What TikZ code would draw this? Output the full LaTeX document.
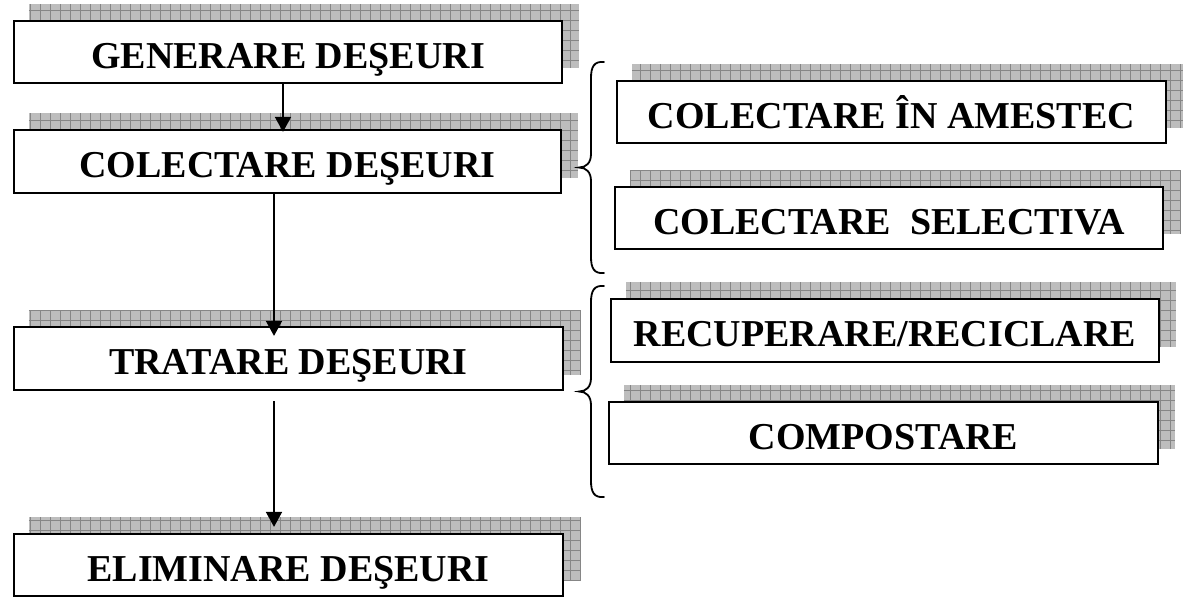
\documentclass[tikz,border=0pt]{standalone}
\usepackage{fontspec}
\setmainfont{Liberation Serif}
\usetikzlibrary{arrows.meta,calc,backgrounds}
\tikzset{
  stepbox/.style={draw=black, line width=2.2pt, fill=white, inner sep=0pt,
    font=\fontsize{38}{40}\selectfont\bfseries, text height=36pt, text depth=4pt},
  shfill/.style={fill=gray!52},
  shgrid/.style={draw=gray!95, line width=0.7pt, step=10pt},
  arr/.style={line width=1.7pt, -{Triangle[length=15pt,width=16pt]}},
  bracepath/.style={line width=1.8pt, line cap=round},
}
\newcommand\boxshadow[1]{%
  \begin{scope}[on background layer]
    \fill[shfill] ($(#1.south west)+(16,-16)$) rectangle ($(#1.north east)+(16,-16)$);
    \draw[shgrid] ($(#1.south west)+(16,-16)$) grid ($(#1.north east)+(16,-16)$);
  \end{scope}}
\begin{document}
\begin{tikzpicture}[x=1pt,y=-1pt]
\useasboundingbox (0,0) rectangle (1187,597);
\begin{scope}[on background layer]
  \fill[white] (0,0) rectangle (1187,597);
\end{scope}
% left column
\node[stepbox, minimum width=548pt, minimum height=62pt] (gen) at (288,52) {GENERARE DEŞEURI};
\node[stepbox, minimum width=547pt, minimum height=63pt] (col) at (287.5,161.5) {COLECTARE DEŞEURI};
\node[stepbox, minimum width=549pt, minimum height=63pt] (tra) at (288.5,358.5) {TRATARE DEŞEURI};
\node[stepbox, minimum width=549pt, minimum height=62pt] (eli) at (288.5,565) {ELIMINARE DEŞEURI};
% right column
\node[stepbox, minimum width=549pt, minimum height=62pt] (ame) at (891.5,112) {COLECTARE ÎN AMESTEC};
\node[stepbox, minimum width=548pt, minimum height=62pt] (sel) at (889,218) {COLECTARE\ \ SELECTIVA};
\node[stepbox, minimum width=548pt, minimum height=63pt] (rec) at (885,330.5) {RECUPERARE/RECICLARE\hspace{18pt}};
\node[stepbox, minimum width=549pt, minimum height=62pt] (com) at (883.5,433) {COMPOSTARE};
\boxshadow{gen}\boxshadow{col}\boxshadow{tra}\boxshadow{eli}
\boxshadow{ame}\boxshadow{sel}\boxshadow{rec}\boxshadow{com}
% arrows
\draw[arr] ([xshift=-5pt]gen.south) -- ([xshift=-4.5pt,yshift=-3pt]col.north);
\draw[arr] ([xshift=-13.5pt]col.south) -- ([xshift=-14.5pt,yshift=-10pt]tra.north);
\draw[arr] ([xshift=-14.5pt,yshift=-10pt]tra.south) -- ([xshift=-14.5pt,yshift=6pt]eli.north);
% braces
\coordinate (b1t) at (604,62);
\coordinate (b1b) at (604,273);
\coordinate (b2t) at (604,286);
\coordinate (b2b) at (604,497);
\draw[bracepath] (b1t) .. controls (594,61) and (591,67) .. (591,78) -- (591,154)
  .. controls (591,163) and (586,167.5) .. (579,167.5)
  .. controls (586,167.5) and (591,172) .. (591,181) -- (591,257)
  .. controls (591,268) and (594,274) .. (b1b);
\draw[bracepath] (b2t) .. controls (594,285) and (591,291) .. (591,302) -- (591,378)
  .. controls (591,387) and (586,391.5) .. (579,391.5)
  .. controls (586,391.5) and (591,396) .. (591,405) -- (591,481)
  .. controls (591,492) and (594,498) .. (b2b);
\end{tikzpicture}
\end{document}
